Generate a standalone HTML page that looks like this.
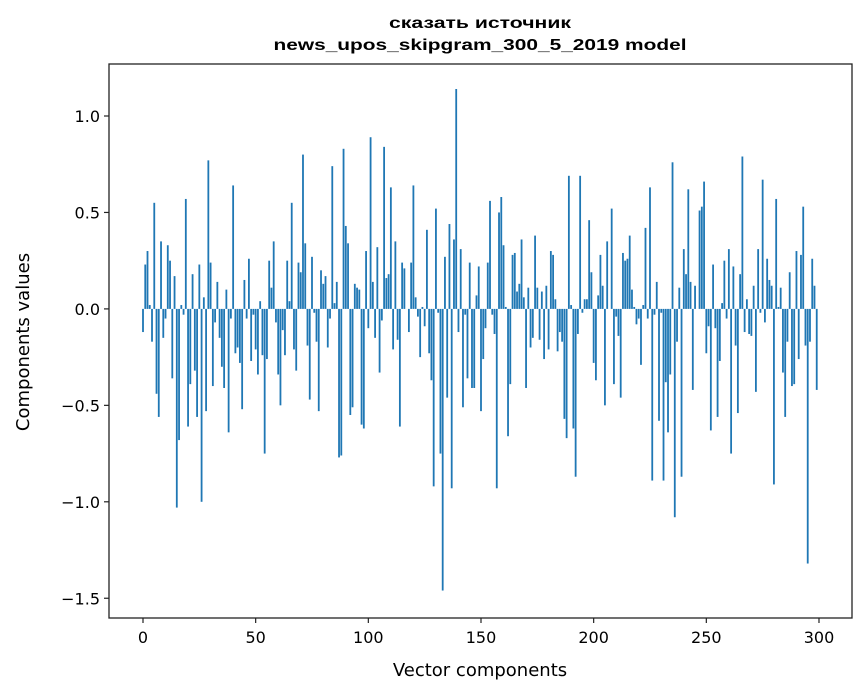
<!DOCTYPE html>
<html><head><meta charset="utf-8"><style>
html,body{margin:0;padding:0;background:#fff;}
svg{display:block;}
text{font-family:"DejaVu Sans","Liberation Sans",sans-serif;fill:#000;}
</style></head><body>
<svg id="chart" width="867" height="696" viewBox="0 0 867 696" xmlns="http://www.w3.org/2000/svg">
<rect x="0" y="0" width="867" height="696" fill="#fff"/>
<text x="480" y="28" text-anchor="middle" font-size="16" font-weight="bold" style="font-family:'Liberation Sans',sans-serif" textLength="182" lengthAdjust="spacingAndGlyphs">сказать источник</text>
<text x="480" y="50" text-anchor="middle" font-size="16" font-weight="bold" style="font-family:'Liberation Sans',sans-serif" textLength="413" lengthAdjust="spacingAndGlyphs">news_upos_skipgram_300_5_2019 model</text>
<g id="bars"></g>
<g id="axes"></g>
<text x="480" y="676" text-anchor="middle" font-size="18">Vector components</text>
<text x="0" y="0" text-anchor="middle" font-size="18" transform="translate(29,342) rotate(-90)">Components values</text>
</svg>
<script>
const componentIndexStart = 0;
const componentValues = [
-0.12,0.23,0.30,0.02,-0.17,0.55,-0.44,-0.56,0.35,-0.15,
-0.05,0.33,0.25,-0.36,0.17,-1.03,-0.68,0.02,-0.03,0.57,
-0.61,-0.39,0.18,-0.32,-0.56,0.23,-1.00,0.06,-0.53,0.77,
0.24,-0.40,-0.07,0.14,-0.15,-0.30,-0.41,0.10,-0.64,-0.05,
0.64,-0.23,-0.20,-0.28,-0.52,0.15,-0.05,0.26,-0.27,-0.03,
-0.21,-0.34,0.04,-0.24,-0.75,-0.26,0.25,0.11,0.35,-0.07,
-0.34,-0.50,-0.11,-0.24,0.25,0.04,0.55,-0.21,-0.32,0.24,
0.19,0.80,0.34,-0.19,-0.47,0.27,-0.02,-0.17,-0.53,0.20,
0.13,0.17,-0.20,-0.05,0.74,0.03,0.14,-0.77,-0.76,0.83,
0.43,0.34,-0.55,-0.51,0.13,0.11,0.10,-0.60,-0.62,0.30,
-0.10,0.89,0.14,-0.15,0.32,-0.33,-0.06,0.84,0.16,0.18,
0.63,-0.21,0.35,-0.16,-0.61,0.24,0.21,0.00,-0.12,0.24,
0.64,0.06,-0.04,-0.25,0.01,-0.09,0.41,-0.23,-0.37,-0.92,
0.52,-0.02,-0.75,-1.46,0.27,-0.46,0.44,-0.93,0.36,1.14,
-0.12,0.31,-0.51,-0.03,-0.36,0.24,-0.41,-0.41,0.07,0.22,
-0.53,-0.26,-0.10,0.24,0.56,-0.03,-0.13,-0.93,0.50,0.58,
0.33,0.01,-0.66,-0.39,0.28,0.29,0.09,0.13,0.36,0.06,
-0.41,0.11,-0.20,-0.15,0.38,0.11,-0.16,0.09,-0.26,0.12,
-0.21,0.30,0.28,0.05,-0.22,-0.12,-0.17,-0.57,-0.67,0.69,
0.02,-0.62,-0.87,-0.13,0.69,-0.02,0.05,0.05,0.46,0.19,
-0.28,-0.37,0.07,0.28,0.12,-0.50,0.35,0.00,0.52,-0.39,
-0.04,-0.14,-0.46,0.29,0.25,0.26,0.38,0.10,0.01,-0.08,
-0.05,-0.29,0.02,0.42,-0.05,0.63,-0.89,-0.03,0.14,-0.58,
-0.02,-0.89,-0.38,-0.64,-0.34,0.76,-1.08,-0.17,0.11,-0.87,
0.31,0.18,0.62,0.14,-0.42,0.12,0.00,0.51,0.53,0.66,
-0.23,-0.09,-0.63,0.23,-0.10,-0.56,-0.27,0.03,0.25,-0.05,
0.31,-0.75,0.22,-0.19,-0.54,0.18,0.79,-0.12,0.05,-0.13,
-0.14,0.12,-0.43,0.31,-0.02,0.67,-0.07,0.26,0.15,0.12,
-0.91,0.57,0.01,0.11,-0.33,-0.56,-0.17,0.19,-0.40,-0.39,
0.30,-0.26,0.28,0.53,-0.19,-1.32,-0.17,0.26,0.12,-0.42
];
const xTickValues = [0,50,100,150,200,250,300];
const xTickLabels = ["0","50","100","150","200","250","300"];
const yTickValues = [1.0,0.5,0.0,-0.5,-1.0,-1.5];
const yTickLabels = ["1.0","0.5","0.0","\u22120.5","\u22121.0","\u22121.5"];

const NS="http://www.w3.org/2000/svg";
const plot={left:109,right:852,top:64,bottom:618};
const xScale=v=>143+(v)*2.2533;
const yScale=v=>308.9-v*192.9;
function mk(tag,attrs,parent){const e=document.createElementNS(NS,tag);for(const k in attrs)e.setAttribute(k,attrs[k]);parent.appendChild(e);return e;}
const bars=document.getElementById('bars');
const bw=0.8*2.2533;
componentValues.forEach((v,i)=>{
  const x=xScale(componentIndexStart+i)-bw/2;
  const y0=yScale(0),y1=yScale(v);
  const r=mk('rect',{x:x,y:Math.min(y0,y1),width:bw,height:Math.max(Math.abs(y1-y0),0.01),fill:'#1f77b4'},bars);
  
  
});
const axes=document.getElementById('axes');
const frame=mk('rect',{x:plot.left,y:plot.top,width:plot.right-plot.left,height:plot.bottom-plot.top,fill:'none',stroke:'#222',"stroke-width":1.3},axes);


xTickValues.forEach((v,i)=>{
  const x=xScale(v);
  const t=mk('line',{x1:x,x2:x,y1:plot.bottom,y2:plot.bottom+5,stroke:'#222',"stroke-width":1.2},axes);
  
  
  const l=mk('text',{x:x,y:plot.bottom+25,"text-anchor":"middle","font-size":16},axes);
  l.textContent=xTickLabels[i];
  
  
});
yTickValues.forEach((v,i)=>{
  const y=yScale(v);
  const t=mk('line',{x1:plot.left-5,x2:plot.left,y1:y,y2:y,stroke:'#222',"stroke-width":1.2},axes);
  
  
  const l=mk('text',{x:plot.left-9,y:y+6,"text-anchor":"end","font-size":16},axes);
  l.textContent=yTickLabels[i];
  
  
});
</script>
</body></html>
